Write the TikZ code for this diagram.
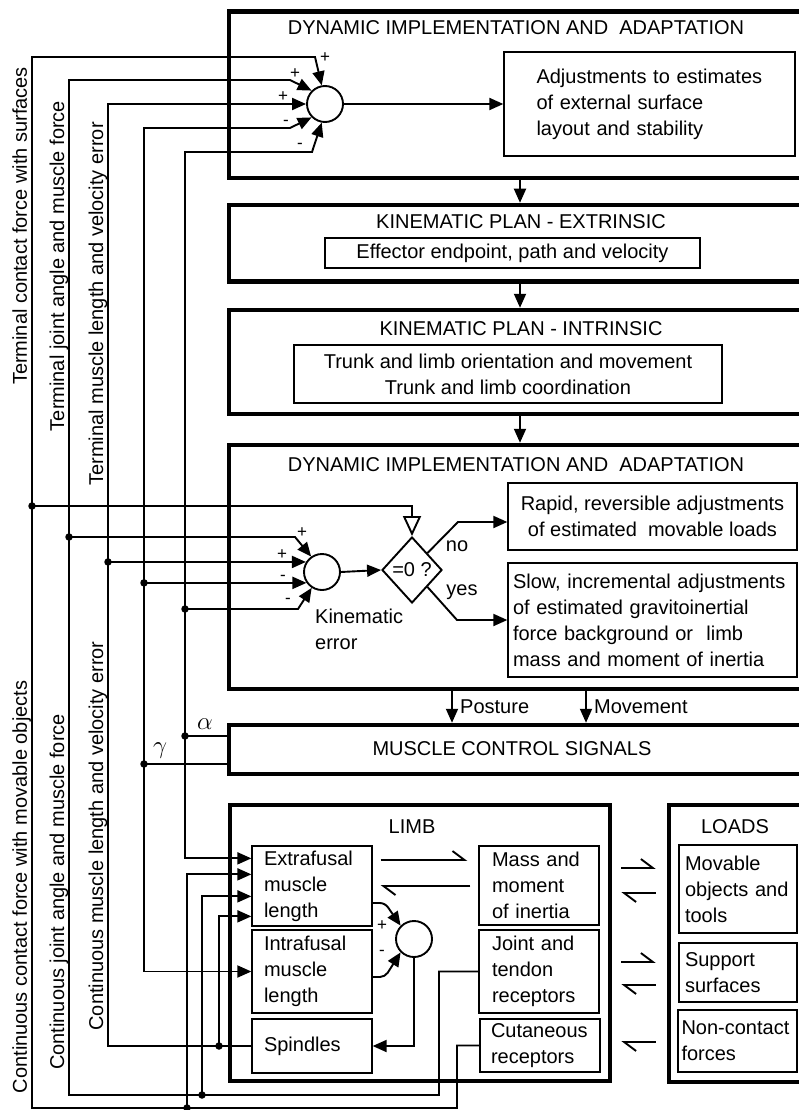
\documentclass[tikz,border=0pt]{standalone}
\usepackage{fontspec}
\setmainfont{Liberation Sans}
\usetikzlibrary{positioning,calc,arrows.meta,shapes.geometric}

\begin{document}
\begin{tikzpicture}[x=1pt,y=-1pt,>={Triangle[length=14pt,width=12pt]},
                every node/.style={font=\fontsize{20}{26}\selectfont},
                frame/.style={draw,line width=4.5pt,inner sep=0pt},
                cell/.style={draw,line width=1.3pt,inner sep=0pt},
                wire/.style={line width=1.9pt},
                sum/.style={circle,draw,line width=1.9pt,minimum size=36pt,inner sep=0pt},
                test/.style={diamond,draw,line width=1.9pt,inner sep=0pt,minimum width=60pt,minimum height=66pt},
                dot/.style={circle,fill,inner sep=0pt,minimum size=7.5pt},
                sgn/.style={inner sep=0pt,font=\fontsize{17}{17}\selectfont},
                greek/.style={inner sep=0pt,font=\fontsize{27}{27}\selectfont},
                lbl/.style={inner sep=0pt},
                harp/.style={line width=1.9pt,-{Straight Barb[harpoon,length=12pt,width=18pt]}}]

\clip (0,0) rectangle (799,1110);

\node[frame,minimum width=582,minimum height=166.5] (dyn1)  at (520,94.75) {};
\node[frame,minimum width=582,minimum height=76.5]  (kinE)  at (520,243.25) {};
\node[frame,minimum width=582,minimum height=104]   (kinI)  at (520,362) {};
\node[frame,minimum width=582,minimum height=244]   (dyn2)  at (520,567) {};
\node[frame,minimum width=582,minimum height=49]    (mcs)   at (520,749.5) {};
\node[frame,minimum width=380,minimum height=276]   (limb)  at (420,943) {};
\node[frame,minimum width=161,minimum height=277]   (loads) at (749.5,943.5) {};

\node[lbl] (t1) at (516,28)  {DYNAMIC IMPLEMENTATION AND~ ADAPTATION};
\node[lbl] (t2) at (521,222) {KINEMATIC PLAN - EXTRINSIC};
\node[lbl] (t3) at (521,329) {KINEMATIC PLAN - INTRINSIC};
\node[lbl] (t4) at (516,465) {DYNAMIC IMPLEMENTATION AND~ ADAPTATION};
\node[lbl] (t5) at (512,749) {MUSCLE CONTROL SIGNALS};
\node[lbl] (t6) at (412,827) {LIMB};
\node[lbl] (t7) at (735,827) {LOADS};

\node[cell,minimum width=291,minimum height=104,text width=226,align=left] (adj) at (649.5,104)
    {Adjustments to estimates\\of external surface\\layout and stability};
\node[cell,minimum width=375,minimum height=30]  (eff)   at (512.5,253) {Effector endpoint, path and velocity};
\node[cell,minimum width=428,minimum height=58,align=center] (trunk) at (508,374)
    {Trunk and limb orientation and movement\\Trunk and limb coordination};
\node[cell,minimum width=289,minimum height=67,align=center] (rapid) at (652.5,516.5)
    {Rapid, reversible adjustments\\of estimated~ movable loads};
\node[cell,minimum width=289,minimum height=114,text width=279,align=left] (slow) at (652.5,620)
    {Slow, incremental adjustments\\of estimated gravitoinertial\\force background or~ limb\\mass and moment of inertia};

\node[cell,minimum width=120,minimum height=80,text width=96,align=left] (extra) at (312,886) {Extrafusal\\muscle\\length};
\node[cell,minimum width=120,minimum height=83,text width=96,align=left] (intra) at (312,971.5) {Intrafusal\\muscle\\length};
\node[cell,minimum width=120,minimum height=54,text width=96,align=left] (spin)  at (312,1046) {Spindles};
\node[cell,minimum width=120,minimum height=79,text width=94,align=left] (mass)  at (539,885.5) {Mass and\\moment\\of inertia};
\node[cell,minimum width=120,minimum height=83,text width=94,align=left] (jt)    at (539,971.5) {Joint and\\tendon\\receptors};
\node[cell,minimum width=120,minimum height=53,text width=98,align=left] (cut)   at (540,1045.5) {Cutaneous\\receptors};
\node[cell,minimum width=118,minimum height=88,text width=106,align=left] (mov)  at (738,889) {Movable\\objects and\\tools};
\node[cell,minimum width=118,minimum height=59,text width=106,align=left] (sup)  at (738,972.5) {Support\\surfaces};
\node[cell,minimum width=119,minimum height=62,text width=112,align=left] (nonc) at (737.5,1041) {Non-contact\\forces};

\node[sum]  (sumA) at (325,104) {};
\node[sum]  (sumB) at (322,572) {};
\node[sum]  (sumC) at (414,939) {};
\node[test] (dia)  at (412,570) {=0 ?};

\node[lbl,anchor=north west,align=left] (kerr) at (315,609) {Kinematic\\error};
\node[lbl] (no)  at (457,546) {no};
\node[lbl] (yes) at (462,592) {yes};
\node[lbl,anchor=west] (post) at (460,707) {Posture};
\node[lbl,anchor=west] (move) at (594,707) {Movement};
\node[greek] (al) at (205,724) {$\alpha$};
\node[greek] (ga) at (160,751) {$\gamma$};

\node[lbl,rotate=90,anchor=base] (tcf) at (27,226)  {Terminal contact force with surfaces};
\node[lbl,rotate=90,anchor=base] (tja) at (64,266)  {Terminal joint angle and muscle force};
\node[lbl,rotate=90,anchor=base] (tml) at (103,304) {Terminal muscle length and velocity error};
\node[lbl,rotate=90,anchor=base] (ccf) at (27,887)  {Continuous contact force with movable objects};
\node[lbl,rotate=90,anchor=base] (cja) at (64,892)  {Continuous joint angle and muscle force};
\node[lbl,rotate=90,anchor=base] (cml) at (103,836) {Continuous muscle length and velocity error};

\node[sgn] (sa1) at (325,58)  {+};
\node[sgn] (sa2) at (295,74)  {+};
\node[sgn] (sa3) at (283,97)  {+};
\node[sgn] (sa4) at (286,123) {-};
\node[sgn] (sa5) at (300,146) {-};
\node[sgn] (sb1) at (302,533) {+};
\node[sgn] (sb2) at (282,555) {+};
\node[sgn] (sb3) at (283,578) {-};
\node[sgn] (sb4) at (288,601) {-};
\node[sgn] (sc1) at (382,926) {+};
\node[sgn] (sc2) at (382,953) {-};

\draw[wire,->] (dyn1.south) -- (kinE.north);
\draw[wire,->] (kinE.south) -- (kinI.north);
\draw[wire,->] (kinI.south) -- (dyn2.north);
\draw[wire,->] (dyn2.south -| 452,0) -- (mcs.north -| 452,0);
\draw[wire,->] (dyn2.south -| 586,0) -- (mcs.north -| 586,0);

\draw[wire,->] (cut.west) -| (457,1108) -- (32,1108) -- (32,57) -- (315,57) -- (sumA.100);
\draw[wire,->] (jt.west) -| (439,1095) -- (69,1095) -- (69,80) -- (290,80) -- (sumA.135);
\draw[wire,->] (spin.west) -| (108,104) -- (sumA.west);
\draw[wire,->] (144,764) -- (144,128) -- (290,128) -- (sumA.225);
\draw[wire,->] (185,736) -- (185,152) -- (312,152) -- (sumA.260);
\draw[wire,->] (sumA.east) -- (adj.west);

\draw[wire] (mcs.west |- 0,736) -- (185,736);
\draw[wire] (mcs.west |- 0,764) -- (144,764);
\draw[wire,->] (185,736) |- ($(extra.north west)+(0,13)$);
\draw[wire,->] (187,1108) |- ($(extra.north west)+(0,29)$);
\draw[wire,->] (202,1095) |- ($(extra.north west)+(0,51)$);
\draw[wire,->] (219,1046) |- ($(extra.north west)+(0,71)$);
\draw[wire,->] (144,764) |- (intra.west);

\draw[wire,-{Triangle[open,length=20pt,width=18pt]}] (32,506) -| (dia.north);
\draw[wire,->] (69,537) -- (295,537) -- (sumB.125);
\draw[wire,->] (sumB.148 -| 108,0) -- (sumB.148);
\draw[wire,->] (sumB.215 -| 144,0) -- (sumB.215);
\draw[wire,->] (185,609) -- (298,609) -- (sumB.237);
\draw[wire,->] (sumB.east) -- (dia.west);
\draw[wire,->] (dia.north east) -- (458,522) -- (rapid.west |- 0,522);
\draw[wire,->] (dia.south east) -- (457,620) -- (slow.west);

\draw[wire,->,rounded corners=5pt] (extra.east |- 0,903) -- (385,903) -- (sumC.135);
\draw[wire,->,rounded corners=5pt] (intra.east |- 0,977) -- (385,977) -- (sumC.225);
\draw[wire,->] (sumC.south) |- (spin.east);

\draw[harp] ($(extra.east |- 0,860)+(8,0)$) -- ($(mass.west |- 0,860)+(-11,0)$);
\draw[harp] ($(mass.west |- 0,886)+(-8,0)$) -- ($(extra.east |- 0,886)+(8,0)$);
\draw[harp] ($(limb.east |- 0,868)+(9,0)$) -- ($(loads.west |- 0,868)+(-11,0)$);
\draw[harp] ($(loads.west |- 0,893)+(-11,0)$) -- ($(limb.east |- 0,893)+(9,0)$);
\draw[harp] ($(limb.east |- 0,962)+(9,0)$) -- ($(loads.west |- 0,962)+(-11,0)$);
\draw[harp] ($(loads.west |- 0,985)+(-11,0)$) -- ($(limb.east |- 0,985)+(9,0)$);
\draw[harp] ($(loads.west |- 0,1042)+(-11,0)$) -- ($(limb.east |- 0,1042)+(9,0)$);

\node[dot] (d1)  at (32,506) {};
\node[dot] (d2)  at (69,537) {};
\node[dot] (d3)  at (sumB.148 -| 108,0) {};
\node[dot] (d4)  at (sumB.215 -| 144,0) {};
\node[dot] (d5)  at (185,609) {};
\node[dot] (d6)  at (185,736) {};
\node[dot] (d7)  at (144,764) {};
\node[dot] (d8)  at (219,1046) {};
\node[dot] (d9)  at (202,1095) {};
\node[dot] (d10) at (187,1108) {};
\end{tikzpicture}
\end{document}
